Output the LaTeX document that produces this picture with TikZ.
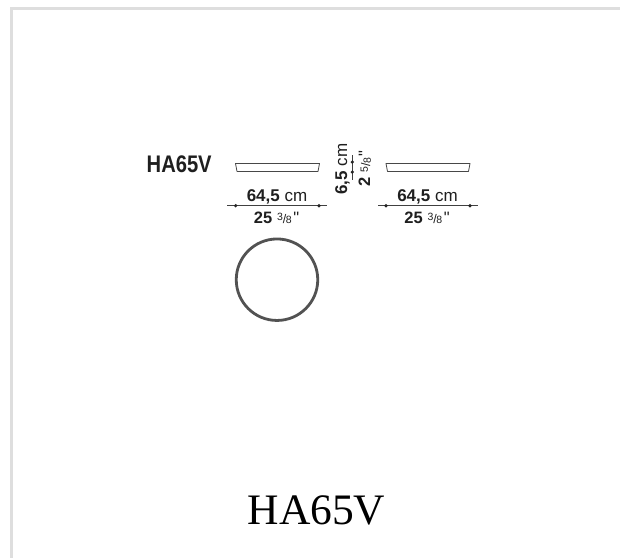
\documentclass[tikz,border=0pt]{standalone}
\usepackage{fontspec}
\setmainfont{Liberation Serif}
\newfontfamily\dimfont{Liberation Sans}
\newfontfamily\condfont[FakeStretch=0.84]{Liberation Sans}
\newcommand{\inchdim}[3]{{\bfseries #1}\hspace{5pt}\raisebox{2.2pt}{\fontsize{10.5}{11}\selectfont #2}\hspace{-0.3pt}{\fontsize{12.5}{12}\selectfont/}\hspace{-0.3pt}\raisebox{-0.8pt}{\fontsize{10.5}{11}\selectfont #3}\hspace{1.5pt}"}
\tikzset{
  px/.style={x=1pt,y=-1pt},
  frameline/.style={draw=none,fill=black!13},
  profile/.style={draw=black!72,line width=0.8pt,line join=round},
  dimline/.style={draw=black!75,line width=0.8pt},
  dimdot/.style={circle,fill=black!85,draw=none,inner sep=0pt,minimum size=3.6pt},
  dimtext/.style={inner sep=0pt,anchor=base,font=\dimfont\fontsize{17}{17}\selectfont,text=black!88},
  inchtext/.style={dimtext,font=\dimfont\fontsize{16.5}{17}\selectfont},
  ring/.style={draw=black!68,line width=2.8pt},
  codelabel/.style={inner sep=0pt,anchor=base west,font=\condfont\bfseries\fontsize{24}{24}\selectfont,text=black!88},
  titlelabel/.style={inner sep=0pt,anchor=base,font=\fontsize{43.5}{43.5}\selectfont,text=black}
}
\begin{document}
\begin{tikzpicture}[px]
\useasboundingbox (0,0) rectangle (620,558);
\fill[frameline] (10,7) rectangle (620,10);
\fill[frameline] (10,7) rectangle (13,558);
\node[codelabel] (code) at (146.5,172.5) {HA65V};
\draw[profile] (235.5,163.5) -- (319.5,163.5) -- (318,171.5) -- (237,171.5) -- cycle;
\draw[profile] (386,163.5) -- (470,163.5) -- (468.5,171.5) -- (387.5,171.5) -- cycle;
\node[dimtext] (wcmA) at (277,201) {\textbf{64,5} cm};
\coordinate (wAl) at (227,205.7);
\coordinate (wAr) at (327,205.7);
\draw[dimline] (wAl) -- (wAr);
\node[dimdot] (wAd1) at (235.7,205.7) {};
\node[dimdot] (wAd2) at (319,205.7) {};
\node[inchtext] (winA) at (276.5,223) {\inchdim{25}{3}{8}};
\node[dimtext] (wcmB) at (427.5,201) {\textbf{64,5} cm};
\coordinate (wBl) at (378,205.7);
\coordinate (wBr) at (478,205.7);
\draw[dimline] (wBl) -- (wBr);
\node[dimdot] (wBd1) at (386,205.7) {};
\node[dimdot] (wBd2) at (470,205.7) {};
\node[inchtext] (winB) at (427,223) {\inchdim{25}{3}{8}};
\node[dimtext,rotate=90] (hcm) at (347,169) {\textbf{6,5} cm};
\coordinate (hT) at (352.3,155);
\coordinate (hB) at (352.3,180);
\draw[dimline] (hT) -- (hB);
\node[dimdot] (hd1) at (352.3,162) {};
\node[dimdot] (hd2) at (352.3,172) {};
\node[inchtext,rotate=90] (hin) at (370,168.5) {\inchdim{2}{5}{8}};
\node[ring,circle,minimum size=81.5pt,inner sep=0pt] (top) at (277,279.7) {};
\node[titlelabel] (title) at (316.5,524) {HA65V};
\end{tikzpicture}
\end{document}
